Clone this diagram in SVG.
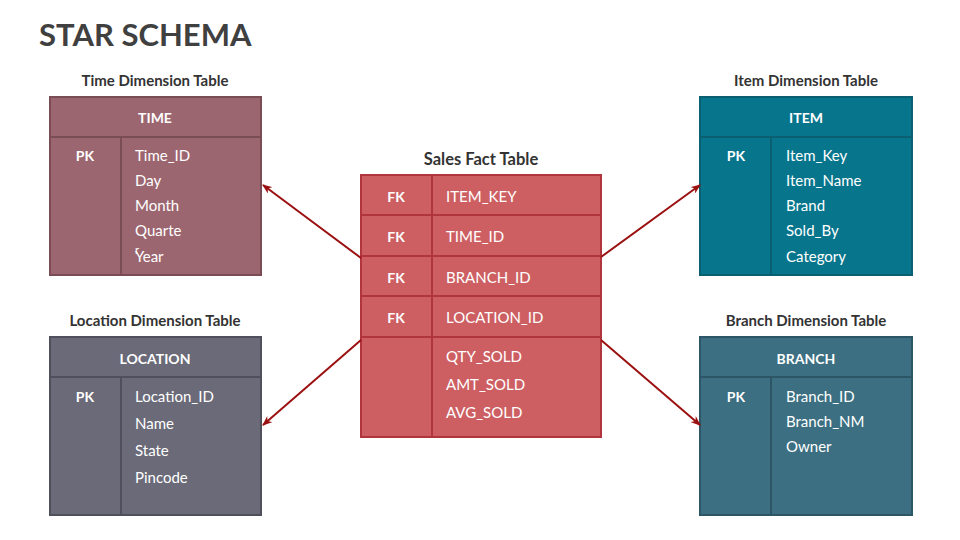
<svg xmlns="http://www.w3.org/2000/svg" width="960" height="540" viewBox="0 0 960 540">
<defs>
<marker id="ah" markerWidth="10" markerHeight="8" refX="9" refY="4" orient="auto" markerUnits="userSpaceOnUse">
<path d="M0,0 L10,4 L0,8 L3,4 Z" fill="#9B1010"/>
</marker>
<style>
text{font-family:Lato,"Open Sans","Liberation Sans",sans-serif;}
.title{font-size:31px;font-weight:bold;fill:#404040;}
.cap{font-size:15px;font-weight:bold;fill:#333;text-anchor:middle;}
.hd{font-size:14px;font-weight:bold;fill:#fff;text-anchor:middle;}
.pk{font-size:14px;font-weight:bold;fill:#fff;text-anchor:middle;}
.f{font-size:15px;fill:#fff;}
.ln{fill:none;stroke-width:2;}
.conn{stroke:#9B1010;stroke-width:2;fill:none;marker-end:url(#ah);}
</style>
</defs>
<rect width="960" height="540" fill="#fff"/>
<text class="title" x="39" y="46">STAR SCHEMA</text>

<g id="time">
<text class="cap" x="155" y="86">Time Dimension Table</text>
<rect x="50" y="97" width="211" height="178" fill="#9C6670" stroke="#7A4D56" stroke-width="2"/>
<path class="ln" stroke="#7A4D56" d="M50,137 H261 M121,137 V275"/>
<text class="hd" x="155" y="123">TIME</text>
<text class="pk" x="85" y="161">PK</text>
<text class="f" x="135" y="161">Time_ID</text>
<text class="f" x="135" y="186">Day</text>
<text class="f" x="135" y="211">Month</text>
<text class="f" x="135" y="236">Quarte</text>
<text class="f" x="135" y="254" style="font-size:11px">r</text>
<text class="f" x="135" y="262">Year</text>
</g>

<g id="item">
<text class="cap" x="806" y="86">Item Dimension Table</text>
<rect x="700" y="97" width="212" height="178" fill="#07758C" stroke="#0A5F70" stroke-width="2"/>
<path class="ln" stroke="#0A5F70" d="M700,137 H912 M771,137 V275"/>
<text class="hd" x="806" y="123">ITEM</text>
<text class="pk" x="736" y="161">PK</text>
<text class="f" x="786" y="161">Item_Key</text>
<text class="f" x="786" y="186">Item_Name</text>
<text class="f" x="786" y="211">Brand</text>
<text class="f" x="786" y="236">Sold_By</text>
<text class="f" x="786" y="262">Category</text>
</g>

<g id="location">
<text class="cap" x="155" y="326">Location Dimension Table</text>
<rect x="50" y="337" width="211" height="178" fill="#6A6A78" stroke="#50505C" stroke-width="2"/>
<path class="ln" stroke="#50505C" d="M50,377 H261 M121,377 V515"/>
<text class="hd" x="155" y="364">LOCATION</text>
<text class="pk" x="85" y="402">PK</text>
<text class="f" x="135" y="402">Location_ID</text>
<text class="f" x="135" y="429">Name</text>
<text class="f" x="135" y="456">State</text>
<text class="f" x="135" y="483">Pincode</text>
</g>

<g id="branch">
<text class="cap" x="806" y="326">Branch Dimension Table</text>
<rect x="700" y="337" width="212" height="178" fill="#3B6F81" stroke="#2C5665" stroke-width="2"/>
<path class="ln" stroke="#2C5665" d="M700,377 H912 M771,377 V515"/>
<text class="hd" x="806" y="364">BRANCH</text>
<text class="pk" x="736" y="402">PK</text>
<text class="f" x="786" y="402">Branch_ID</text>
<text class="f" x="786" y="427">Branch_NM</text>
<text class="f" x="786" y="452">Owner</text>
</g>

<g id="sales">
<text class="cap" x="481" y="165" style="font-size:16.5px">Sales Fact Table</text>
<rect x="361" y="175" width="240" height="262" fill="#CD5F63" stroke="#B0353D" stroke-width="2"/>
<path class="ln" stroke="#B0353D" d="M361,215 H601 M361,256 H601 M361,296 H601 M361,337 H601 M432,175 V437"/>
<text class="pk" x="396" y="202">FK</text>
<text class="f" x="446" y="202">ITEM_KEY</text>
<text class="pk" x="396" y="242">FK</text>
<text class="f" x="446" y="242">TIME_ID</text>
<text class="pk" x="396" y="283">FK</text>
<text class="f" x="446" y="283">BRANCH_ID</text>
<text class="pk" x="396" y="323">FK</text>
<text class="f" x="446" y="323">LOCATION_ID</text>
<text class="f" x="446" y="362">QTY_SOLD</text>
<text class="f" x="446" y="390">AMT_SOLD</text>
<text class="f" x="446" y="418">AVG_SOLD</text>
</g>

<g id="connectors">
<line class="conn" x1="361" y1="258" x2="263" y2="185"/>
<line class="conn" x1="601" y1="257" x2="700" y2="185"/>
<line class="conn" x1="361" y1="340" x2="263" y2="425"/>
<line class="conn" x1="601" y1="340" x2="700" y2="425"/>
</g>
</svg>
